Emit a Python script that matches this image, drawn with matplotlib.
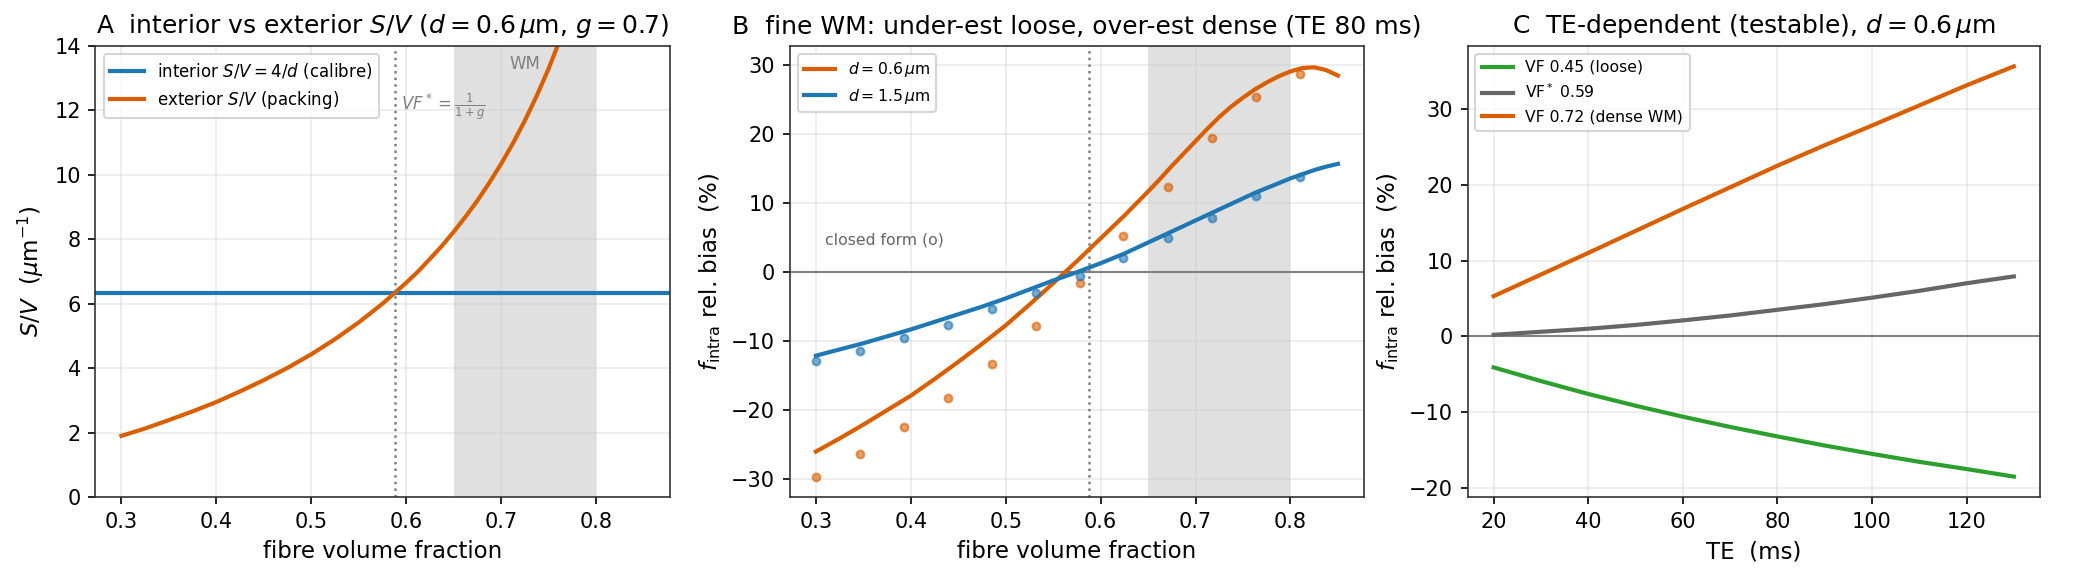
import matplotlib
matplotlib.use("Agg")
import matplotlib.pyplot as plt

# ---------------- data ----------------
# Panel A
vf_a = [0.300, 0.325, 0.350, 0.375, 0.400, 0.425, 0.450, 0.475, 0.500, 0.525,
        0.550, 0.575, 0.600, 0.6125, 0.625, 0.6375, 0.650, 0.6625, 0.675, 0.6875,
        0.700, 0.7125, 0.725, 0.7375, 0.750, 0.7625, 0.775, 0.800]
sv_ext = [1.90, 2.13, 2.39, 2.66, 2.95, 3.28, 3.63, 4.01, 4.43, 4.90,
          5.42, 6.00, 6.65, 7.00, 7.39, 7.79, 8.23, 8.70, 9.20, 9.75,
          10.34, 10.98, 11.68, 12.45, 13.29, 14.23, 15.26, 17.72]
sv_int = 6.33
vf_star = 0.588
wm_band = (0.65, 0.80)

# Panel B
vf_b = [0.300, 0.325, 0.350, 0.375, 0.400, 0.425, 0.450, 0.475, 0.500, 0.525, 0.550, 0.575,
        0.600, 0.625, 0.650, 0.6625, 0.675, 0.6875, 0.700, 0.7125, 0.725, 0.7375, 0.750,
        0.7625, 0.775, 0.7875, 0.800, 0.8125, 0.825, 0.8375, 0.850]
bias_d06 = [-26.0, -24.1, -22.1, -20.0, -17.9, -15.5, -13.0, -10.4, -7.7, -4.7, -1.6, 1.6,
            4.9, 8.2, 11.7, 13.5, 15.4, 17.2, 19.0, 20.8, 22.5, 24.0, 25.3,
            26.5, 27.5, 28.4, 29.1, 29.6, 29.7, 29.3, 28.5]
bias_d15 = [-12.1, -11.2, -10.3, -9.3, -8.3, -7.2, -6.1, -5.0, -3.8, -2.5, -1.2, 0.0,
            1.3, 2.7, 4.3, 5.1, 5.9, 6.7, 7.5, 8.3, 9.1, 9.9, 10.7,
            11.5, 12.2, 12.9, 13.6, 14.2, 14.8, 15.3, 15.7]
vf_pts = [0.300, 0.346, 0.393, 0.439, 0.485, 0.532, 0.578, 0.624, 0.671, 0.717, 0.764, 0.810]
pts_d06 = [-29.7, -26.3, -22.4, -18.2, -13.3, -7.75, -1.5, 5.2, 12.3, 19.4, 25.4, 28.7]
pts_d15 = [-12.9, -11.4, -9.5, -7.6, -5.4, -3.05, -0.6, 2.1, 4.9, 7.9, 11.0, 13.75]

# Panel C
te = [20, 30, 40, 50, 60, 70, 80, 90, 100, 110, 120, 130]
bias_loose = [-4.1, -5.9, -7.6, -9.15, -10.6, -11.95, -13.2, -14.4, -15.5, -16.55, -17.5, -18.5]
bias_star = [0.2, 0.6, 1.0, 1.5, 2.1, 2.75, 3.5, 4.25, 5.1, 6.0, 7.0, 7.9]
bias_dense = [5.3, 8.15, 11.0, 13.9, 16.8, 19.65, 22.5, 25.2, 27.8, 30.45, 33.1, 35.6]

BLUE = "#1f77b4"
ORANGE = "#d95f02"
GREEN = "#2ca02c"
GREY = "#666666"

plt.rcParams.update({
    "font.family": ["DejaVu Sans"],
    "axes.edgecolor": "#333333",
    "font.size": 10,
})

DPI = 150
fig = plt.figure(figsize=(2073 / DPI, 574 / DPI), dpi=DPI)
bottom, height = 0.134, 0.786
axA = fig.add_axes([0.046, bottom, 0.277, height])
axB = fig.add_axes([0.381, bottom, 0.277, height])
axC = fig.add_axes([0.708, bottom, 0.276, height])

for ax in (axA, axB, axC):
    ax.grid(True, color="#cccccc", alpha=0.4, lw=0.8)

LW = 2.0

# ---- Panel A ----
axA.axvspan(*wm_band, color="lightgrey", alpha=0.7, lw=0)
axA.axhline(sv_int, color=BLUE, lw=LW, label=r"interior $S/V=4/d$ (calibre)")
axA.plot(vf_a, sv_ext, color=ORANGE, lw=LW, label=r"exterior $S/V$ (packing)")
axA.axvline(vf_star, color="grey", ls=":", lw=1.2)
axA.text(vf_star + 0.007, 12.1, r"$VF^*=\frac{1}{1+g}$", color="grey", fontsize=8, va="center")
axA.text(0.725, 13.45, "WM", color="grey", fontsize=8, ha="center", va="center")
axA.set_xlim(0.2725, 0.8775)
axA.set_ylim(0, 14)
axA.set_xlabel("fibre volume fraction", fontsize=11)
axA.set_ylabel(r"$S/V$  ($\mu$m$^{-1}$)", fontsize=11)
axA.set_title(r"A  interior vs exterior $S/V$ ($d=0.6\,\mu$m, $g=0.7$)", fontsize=12)
axA.legend(loc="upper left", fontsize=8)

# ---- Panel B ----
axB.axvspan(*wm_band, color="lightgrey", alpha=0.7, lw=0)
axB.axhline(0, color="grey", lw=1)
axB.axvline(vf_star, color="grey", ls=":", lw=1.2)
axB.plot(vf_b, bias_d06, color=ORANGE, lw=LW, label=r"$d=0.6\,\mu$m")
axB.plot(vf_b, bias_d15, color=BLUE, lw=LW, label=r"$d=1.5\,\mu$m")
axB.scatter(vf_pts, pts_d06, s=14, color=ORANGE, alpha=0.6, zorder=3)
axB.scatter(vf_pts, pts_d15, s=14, color=BLUE, alpha=0.6, zorder=3)
axB.text(0.3095, 4.7, "closed form (o)", color="#666666", fontsize=7.5, va="center")
axB.set_xlim(0.2725, 0.8775)
axB.set_ylim(-32.6, 32.8)
axB.set_xlabel("fibre volume fraction", fontsize=11)
axB.set_ylabel(r"$f_{\rm intra}$ rel. bias  (%)", fontsize=11)
axB.set_title("B  fine WM: under-est loose, over-est dense (TE 80 ms)", fontsize=12)
axB.legend(loc="upper left", fontsize=7.5)

# ---- Panel C ----
axC.axhline(0, color="grey", lw=1)
axC.plot(te, bias_loose, color=GREEN, lw=LW, label="VF 0.45 (loose)")
axC.plot(te, bias_star, color=GREY, lw=LW, label=r"VF$^*$ 0.59")
axC.plot(te, bias_dense, color=ORANGE, lw=LW, label="VF 0.72 (dense WM)")
axC.set_xlim(14.5, 135.5)
axC.set_ylim(-21.2, 38.3)
axC.set_xlabel("TE  (ms)", fontsize=11)
axC.set_ylabel(r"$f_{\rm intra}$ rel. bias  (%)", fontsize=11)
axC.set_title(r"C  TE-dependent (testable), $d=0.6\,\mu$m", fontsize=12)
axC.legend(loc="upper left", fontsize=7.5)

fig.savefig("out.png", dpi=DPI)
